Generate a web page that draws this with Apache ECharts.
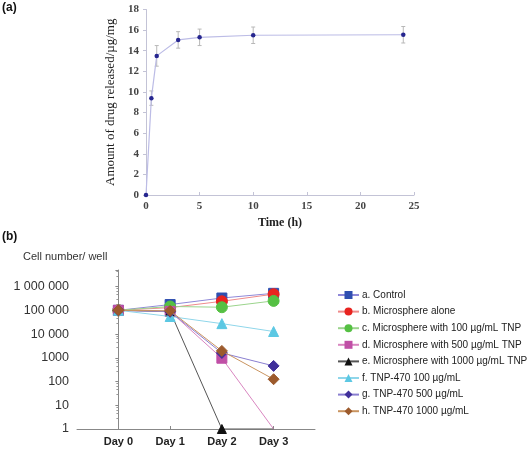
<!DOCTYPE html>
<html><head><meta charset="utf-8">
<script src="https://cdn.jsdelivr.net/npm/echarts@6/dist/echarts.min.js"></script>
<style>html,body{margin:0;padding:0;background:#fff}#c{width:530px;height:449px}</style>
</head><body><div id="c"></div>
<script>
// Panel (a): drug release
const timeH = [0, 0.5, 1, 3, 5, 10, 24];
const released = [0, 9.4, 13.5, 15.05, 15.3, 15.5, 15.55];
const releasedErr = [0, 0.7, 1.0, 0.8, 0.8, 0.8, 0.8];

// Panel (b): cell numbers
const days = ['Day 0', 'Day 1', 'Day 2', 'Day 3'];
const seriesNames = [
  'a. Control',
  'b. Microsphere alone',
  'c. Microsphere with 100 \u00b5g/mL TNP',
  'd. Microsphere with 500 \u00b5g/mL TNP',
  'e. Microsphere with 1000 \u00b5g/mL TNP',
  'f. TNP-470 100 \u00b5g/mL',
  'g. TNP-470 500 \u00b5g/mL',
  'h. TNP-470 1000 \u00b5g/mL'
];
const cellA = [100000, 175000, 330000, 520000];
const cellB = [100000, 130000, 240000, 480000];
const cellC = [100000, 145000, 135000, 250000];
const cellD = [100000, 90000, 960, 1];
const cellE = [100000, 90000, 1, 1];
const cellF = [100000, 55000, 27500, 12800];
const cellG = [100000, 87000, 1600, 455];
const cellH = [100000, 95000, 1950, 125];

const cellSets = [cellA, cellB, cellC, cellD, cellE, cellF, cellG, cellH];
const colors = ['#2f4fb0', '#e8231f', '#55c043', '#c04fa6', '#111111', '#5cc8e3', '#40309a', '#9c5a2c'];
const lineColors = ['#8f88d8', '#ef8b8b', '#9bd48c', '#d986c0', '#555555', '#8fd6ea', '#8a7fd0', '#c99460'];
const symbols = ['rect', 'circle', 'circle', 'rect', 'triangle', 'triangle', 'diamond', 'diamond'];
const sizes = [10, 11, 11, 10, 9, 10, 11, 11];

const chart = echarts.init(document.getElementById('c'));

function fmtCell(v) {
  if (v >= 10000) return String(Math.round(v)).replace(/\B(?=(\d{3})+(?!\d))/g, ' ');
  return String(Math.round(v));
}

const bSeries = cellSets.map((arr, i) => ({
  type: 'line',
  name: seriesNames[i],
  xAxisIndex: 1, yAxisIndex: 1,
  data: arr.map((v, j) => {
    const item = { value: [j, v] };
    if (v <= 1 && (i === 3 || (i === 4 && j === 3))) item.symbol = 'none';
    return item;
  }),
  symbol: symbols[i],
  symbolSize: sizes[i],
  itemStyle: { color: colors[i], borderColor: colors[i] },
  lineStyle: { color: lineColors[i], width: 1 },
  z: 2 + i,
  animation: false
}));

const option = {
  animation: false,
  textStyle: { fontFamily: 'Liberation Sans, Arial, sans-serif' },
  graphic: [
    { type: 'text', left: 2, top: 2, style: { text: '(a)', font: 'bold 12px "Liberation Sans", Arial', fill: '#111' } },
    { type: 'text', left: 2, top: 231, style: { text: '(b)', font: 'bold 12px "Liberation Sans", Arial', fill: '#111' } },
    { type: 'text', left: 23, top: 251, style: { text: 'Cell number/ well', font: '11px "Liberation Sans", Arial', fill: '#333' } }
  ],
  grid: [
    { left: 146, top: 9.5, width: 268, height: 185.5 },
    { left: 77, top: 270, width: 238, height: 159 }
  ],
  xAxis: [
    {
      gridIndex: 0, type: 'value', min: 0, max: 25, interval: 5,
      name: 'Time (h)', nameLocation: 'middle', nameGap: 22,
      nameTextStyle: { fontFamily: 'Liberation Serif, Times New Roman, serif', fontWeight: 'bold', fontSize: 12, color: '#222' },
      axisLine: { lineStyle: { color: '#c3c3d6' } },
      axisTick: { inside: true, length: 3, lineStyle: { color: '#c3c3d6' } },
      axisLabel: { fontFamily: 'Liberation Serif, Times New Roman, serif', fontWeight: 'bold', fontSize: 11, color: '#444', margin: 6 },
      splitLine: { show: false }
    },
    {
      gridIndex: 1, type: 'value', min: -0.8, max: 3.8,
      axisLine: { lineStyle: { color: '#888' } },
      axisTick: { customValues: [0, 1, 2, 3], length: 3, inside: true, lineStyle: { color: '#888' } },
      axisLabel: { customValues: [0, 1, 2, 3], formatter: v => days[Math.round(v)], fontWeight: 'bold', fontSize: 11, color: '#222', margin: 7 },
      splitLine: { show: false }
    }
  ],
  yAxis: [
    {
      gridIndex: 0, type: 'value', min: 0, max: 18, interval: 2,
      name: 'Amount of drug released/\u00b5g/mg', nameLocation: 'middle', nameGap: 24,
      nameTextStyle: { fontFamily: 'Liberation Serif, Times New Roman, serif', fontSize: 13, color: '#222' },
      axisLine: { show: true, lineStyle: { color: '#c3c3d6' } },
      axisTick: { show: true, length: 3, lineStyle: { color: '#c3c3d6' } },
      axisLabel: { fontFamily: 'Liberation Serif, Times New Roman, serif', fontWeight: 'bold', fontSize: 11, color: '#444', margin: 7 },
      splitLine: { show: false }
    },
    {
      gridIndex: 1, type: 'log', min: 1, max: 5000000, logBase: 10,
      axisLine: { show: true, lineStyle: { color: '#888' } },
      axisTick: { show: true, length: 3, lineStyle: { color: '#888' } },
      minorTick: { show: true, splitNumber: 5, length: 2, lineStyle: { color: '#999' } },
      axisLabel: { showMaxLabel: false, formatter: fmtCell, fontSize: 12.5, color: '#333', margin: 8 },
      splitLine: { show: false }
    }
  ],
  legend: {
    data: seriesNames,
    orient: 'vertical',
    left: 332, top: 285,
    itemWidth: 21, itemHeight: 10, itemGap: 6.6,
    textStyle: { fontSize: 10, color: '#222', fontFamily: 'Liberation Sans, Arial, sans-serif', padding: [0, 0, 0, -2] }
  },
  series: [
    {
      type: 'line', xAxisIndex: 0, yAxisIndex: 0,
      data: timeH.map((t, i) => [t, released[i]]),
      symbol: 'circle', symbolSize: 4.5,
      itemStyle: { color: '#26268f' },
      lineStyle: { color: '#bcbce6', width: 1.2 },
      z: 3
    },
    {
      type: 'custom', xAxisIndex: 0, yAxisIndex: 0,
      data: timeH.map((t, i) => [t, released[i] - releasedErr[i], released[i] + releasedErr[i]]),
      renderItem: function (params, api) {
        const lo = api.coord([api.value(0), api.value(1)]);
        const hi = api.coord([api.value(0), api.value(2)]);
        if (api.value(2) - api.value(1) <= 0) return null;
        const w = 2;
        const st = { stroke: '#b8b8b8', lineWidth: 1 };
        return {
          type: 'group', children: [
            { type: 'line', shape: { x1: lo[0], y1: lo[1], x2: hi[0], y2: hi[1] }, style: st },
            { type: 'line', shape: { x1: lo[0] - w, y1: lo[1], x2: lo[0] + w, y2: lo[1] }, style: st },
            { type: 'line', shape: { x1: hi[0] - w, y1: hi[1], x2: hi[0] + w, y2: hi[1] }, style: st }
          ]
        };
      },
      z: 2
    }
  ].concat(bSeries)
};
chart.setOption(option);
</script>
</body></html>
